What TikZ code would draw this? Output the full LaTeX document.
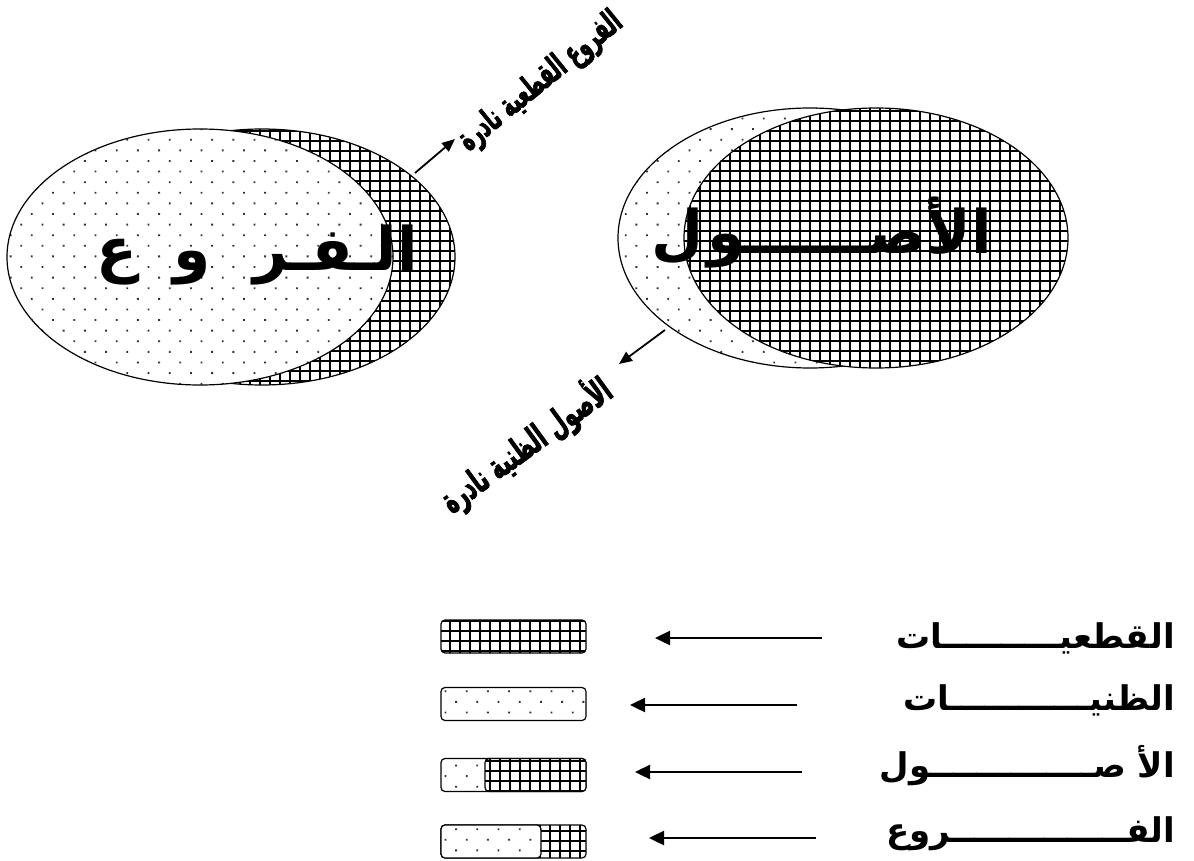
\documentclass[tikz,border=0pt]{standalone}
\usepackage{fontspec}
\TeXXeTstate=1
\newfontfamily\arabicfont[Script=Arabic]{DejaVu Sans}
\newfontfamily\arabicnarrow[Script=Arabic,FakeStretch=0.58,FakeBold=2]{DejaVu Sans}
\usetikzlibrary{patterns.meta,arrows.meta,shapes.geometric}
\tikzset{
  dotfill/.style={preaction={fill=white}, pattern={Dots[distance=15pt,angle=45,radius=1.3pt]}, pattern color=black!80},
  gridfill/.style={preaction={fill=white}, pattern={Hatch[distance=10pt,angle=0,line width=2.2pt]}, pattern color=black},
  blob/.style={ellipse, draw, line width=1.2pt, inner sep=0pt},
  legbox/.style={rectangle, rounded corners=4pt, draw, line width=1.2pt, inner sep=0pt, minimum height=33pt},
  ptr/.style={line width=1.8pt, -{Triangle[length=13pt,width=11pt]}},
  legarrow/.style={line width=2.4pt, -{Triangle[length=15pt,width=14pt]}},
  bigtxt/.style={inner sep=0pt, font=\arabicfont\bfseries\fontsize{60}{70}\selectfont},
  slanttxt/.style={inner sep=0pt, font=\arabicnarrow\bfseries\fontsize{33}{38}\selectfont},
  legtxt/.style={inner sep=0pt, font=\arabicfont\bfseries\fontsize{34}{40}\selectfont},
}
\begin{document}
\begin{tikzpicture}[x=1pt,y=-1pt]
\useasboundingbox (0,0) rectangle (1194,861);
% left group
\node[blob, gridfill, minimum width=386pt, minimum height=256pt] (fh) at (262,257) {};
\node[blob, dotfill, minimum width=386pt, minimum height=256pt] (fd) at (200,257) {};
\node[bigtxt, anchor=base east] (ftxt) at (418,270) {\beginR الـفـر\hspace{42pt}و\hspace{36pt}ع\endR};
% right group
\node[blob, dotfill, minimum width=384pt, minimum height=260pt] (ad) at (810,238) {};
\node[blob, gridfill, minimum width=384pt, minimum height=260pt] (ah) at (876,238) {};
\node[bigtxt, anchor=base east] (atxt) at (992,253) {\beginR الأصــــــو\hspace{4pt}ل\endR};
% slanted labels
\node[slanttxt, rotate=39] (lab1) at (541,82) {\beginR الفروع القطعية نادرة\endR};
\node[slanttxt, rotate=36, font=\arabicnarrow\bfseries\fontsize{35.5}{40}\selectfont] (lab2) at (526,445) {\beginR الأصول الظنية نادرة\endR};
\coordinate (p1s) at (415,173);
\coordinate (p1e) at (455,139);
\coordinate (p2s) at (665,330);
\coordinate (p2e) at (619,364);
\draw[ptr] (p1s) -- (p1e);
\draw[ptr] (p2s) -- (p2e);
% legend boxes
\node[legbox, gridfill, minimum width=145pt] (b1) at (513.5,636.5) {};
\node[legbox, dotfill, minimum width=145pt] (b2) at (513.5,704) {};
\node[legbox, dotfill, minimum width=145pt] (b3) at (513.5,775) {};
\node[legbox, gridfill, minimum width=101pt] (b3h) at (535.5,775) {};
\node[legbox, gridfill, minimum width=145pt] (b4) at (513.5,841.5) {};
\node[legbox, dotfill, minimum width=100pt] (b4d) at (491,841.5) {};
% legend arrows
\coordinate (a1s) at (822,638); \coordinate (a1e) at (655,638);
\coordinate (a2s) at (797,705); \coordinate (a2e) at (630,705);
\coordinate (a3s) at (802,772); \coordinate (a3e) at (635,772);
\coordinate (a4s) at (816,838); \coordinate (a4e) at (649,838);
\draw[legarrow] (a1s) -- (a1e);
\draw[legarrow] (a2s) -- (a2e);
\draw[legarrow] (a3s) -- (a3e);
\draw[legarrow] (a4s) -- (a4e);
% legend texts
\node[legtxt, anchor=base east] (t1) at (1175,648) {\beginR القطعيــــــــــات\endR};
\node[legtxt, anchor=base east] (t2) at (1175,710) {\beginR الظنيــــــــــــات\endR};
\node[legtxt, anchor=base east] (t3) at (1175,777) {\beginR الأ صــــــــــــــول\endR};
\node[legtxt, anchor=base east] (t4) at (1175,842) {\beginR الفـــــــــــــــروع\endR};
\end{tikzpicture}
\end{document}
